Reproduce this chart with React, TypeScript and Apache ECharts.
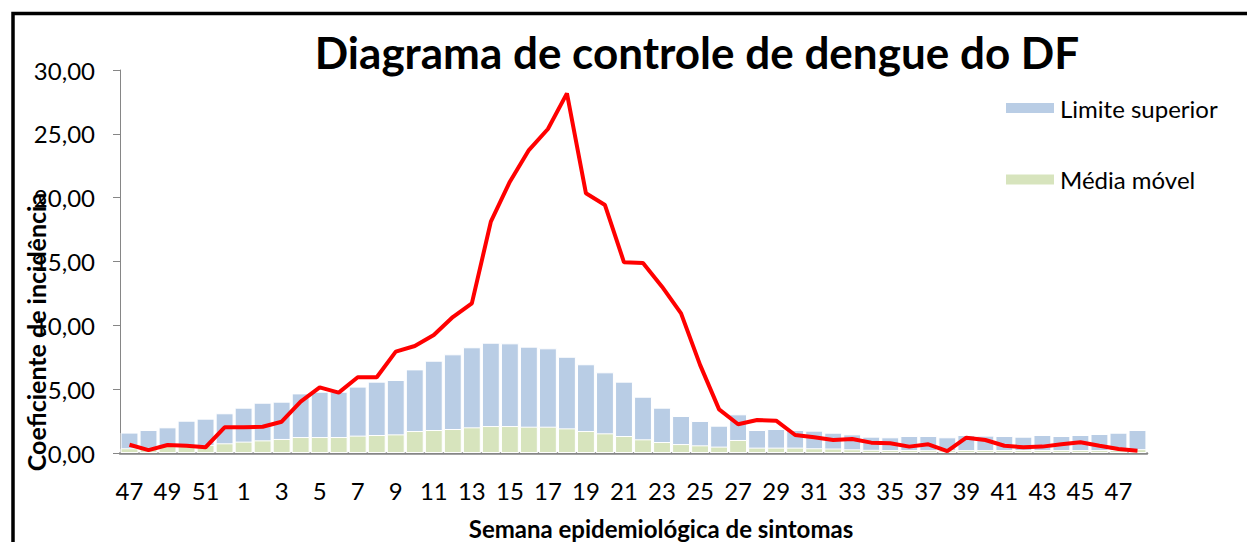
import React, { useEffect, useRef } from "react";
import * as echarts from "echarts";

const semanas = [
  "47", "48", "49", "50", "51", "52",
  "1", "2", "3", "4", "5", "6", "7", "8", "9", "10",
  "11", "12", "13", "14", "15", "16", "17", "18", "19", "20",
  "21", "22", "23", "24", "25", "26", "27", "28", "29", "30",
  "31", "32", "33", "34", "35", "36", "37", "38", "39", "40",
  "41", "42", "43", "44", "45", "46", "47", "48",
];

const limiteSuperior = [
  1.6, 1.8, 2.01, 2.53, 2.69, 3.11,
  3.55, 3.94, 4.02, 4.67, 4.8, 4.8, 5.2, 5.59, 5.72, 6.55,
  7.23, 7.73, 8.28, 8.64, 8.59, 8.33, 8.2, 7.54, 6.95, 6.32,
  5.59, 4.41, 3.55, 2.9, 2.51, 2.14, 3.03, 1.8, 1.88, 1.8,
  1.75, 1.59, 1.46, 1.28, 1.23, 1.33, 1.33, 1.23, 1.41, 1.36,
  1.33, 1.28, 1.41, 1.33, 1.41, 1.49, 1.59, 1.8,
];

const mediaMovel = [
  0.37, 0.4, 0.55, 0.6, 0.63, 0.76,
  0.89, 0.99, 1.1, 1.25, 1.25, 1.25, 1.36, 1.41, 1.46, 1.72,
  1.8, 1.88, 2.01, 2.11, 2.11, 2.06, 2.06, 1.93, 1.72, 1.54,
  1.33, 1.07, 0.86, 0.7, 0.6, 0.5, 1.02, 0.42, 0.42, 0.42,
  0.37, 0.35, 0.29, 0.25, 0.23, 0.23, 0.22, 0.22, 0.23, 0.23,
  0.23, 0.23, 0.23, 0.23, 0.23, 0.23, 0.23, 0.3,
];

const incidencia = [
  0.65, 0.23, 0.63, 0.57, 0.45, 2.01,
  2.01, 2.06, 2.45, 4.02, 5.14, 4.73, 5.93, 5.93, 7.94, 8.38,
  9.24, 10.65, 11.72, 18.12, 21.25, 23.73, 25.38, 28.17, 20.34, 19.42,
  14.94, 14.88, 13.03, 10.94, 6.9, 3.42, 2.25, 2.58, 2.53, 1.41,
  1.23, 1.02, 1.1, 0.81, 0.76, 0.5, 0.68, 0.15, 1.2, 1.02,
  0.57, 0.45, 0.5, 0.68, 0.84, 0.57, 0.31, 0.18,
];

const FONT = "Lato, 'Open Sans', sans-serif";

export default function App() {
  const ref = useRef<HTMLDivElement>(null);

  useEffect(() => {
    if (!ref.current) return;
    const chart = echarts.init(ref.current, undefined, { renderer: "svg" });
    chart.setOption({
      animation: false,
      backgroundColor: "#ffffff",
      textStyle: { fontFamily: FONT },
      graphic: [
        {
          type: "rect",
          shape: { x: 13, y: 13.5, width: 1400, height: 700 },
          style: { fill: "none", stroke: "#000", lineWidth: 3.5 },
          silent: true,
        },
        {
          type: "text",
          x: 697,
          y: 52,
          style: {
            text: "Diagrama de controle de dengue do DF",
            fontFamily: FONT,
            fontWeight: "bold",
            fontSize: 44,
            fill: "#000",
            textAlign: "center",
            textVerticalAlign: "middle",
          },
        },
        {
          type: "text",
          x: 661,
          y: 528,
          z: 10,
          style: {
            text: "Semana epidemiológica de sintomas",
            fontFamily: FONT,
            fontWeight: "bold",
            fontSize: 24,
            lineHeight: 24,
            fill: "#000",
            textAlign: "center",
            textVerticalAlign: "middle",
          },
        },
        {
          type: "text",
          x: 36,
          y: 332,
          rotation: Math.PI / 2,
          z: 10,
          style: {
            text: "Coeficiente de incidência",
            fontFamily: FONT,
            fontWeight: "bold",
            fontSize: 25,
            lineHeight: 25,
            fill: "#000",
            textAlign: "center",
            textVerticalAlign: "middle",
          },
        },
      ],
      legend: [
        {
          data: ["Limite superior"],
          left: 1004,
          top: 96,
          padding: 0,
          itemWidth: 50,
          itemHeight: 12,
          itemGap: 8,
          icon: "rect",
          textStyle: { fontFamily: FONT, fontSize: 24, color: "#000" },
        },
        {
          data: ["Média móvel"],
          left: 1004,
          top: 167.5,
          padding: 0,
          itemWidth: 50,
          itemHeight: 12,
          itemGap: 8,
          icon: "rect",
          textStyle: { fontFamily: FONT, fontSize: 24, color: "#000" },
        },
      ],
      grid: {
        left: 120,
        top: 70,
        width: 1027,
        height: 383,
        containLabel: false,
        outerBoundsMode: "none",
      },
      xAxis: {
        type: "category",
        data: semanas,
        axisLine: { lineStyle: { color: "#868686", width: 2.5 } },
        axisTick: { show: false },
        axisLabel: {
          interval: 1,
          margin: 25,
          fontFamily: FONT,
          fontSize: 24,
          color: "#000",
        },
      },
      yAxis: {
        type: "value",
        min: 0,
        max: 30,
        interval: 5,
        axisLine: { show: true, lineStyle: { color: "#868686", width: 1 } },
        axisTick: { show: true, length: 7, lineStyle: { color: "#868686" } },
        splitLine: { show: false },
        axisLabel: {
          margin: 25,
          fontFamily: FONT,
          fontSize: 24,
          color: "#000",
          formatter: (v: number) => v.toFixed(2).replace(".", ","),
        },
      },
      series: [
        {
          name: "Limite superior",
          type: "bar",
          data: limiteSuperior,
          barCategoryGap: "6%",
          barGap: "-100%",
          itemStyle: { color: "#B9CDE5", borderColor: "#ffffff", borderWidth: 1 },
          z: 1,
        },
        {
          name: "Média móvel",
          type: "bar",
          data: mediaMovel,
          barCategoryGap: "6%",
          barGap: "-100%",
          itemStyle: { color: "#D7E4BD", borderColor: "#ffffff", borderWidth: 1 },
          z: 2,
        },
        {
          name: "Coeficiente de incidência",
          type: "line",
          data: incidencia,
          showSymbol: false,
          symbol: "none",
          lineStyle: { color: "#FF0000", width: 4 },
          z: 5,
        },
      ],
    });
    return () => chart.dispose();
  }, []);

  return (
    <div
      ref={ref}
      style={{ position: "absolute", left: 0, top: 0, width: 1247, height: 542 }}
    />
  );
}
